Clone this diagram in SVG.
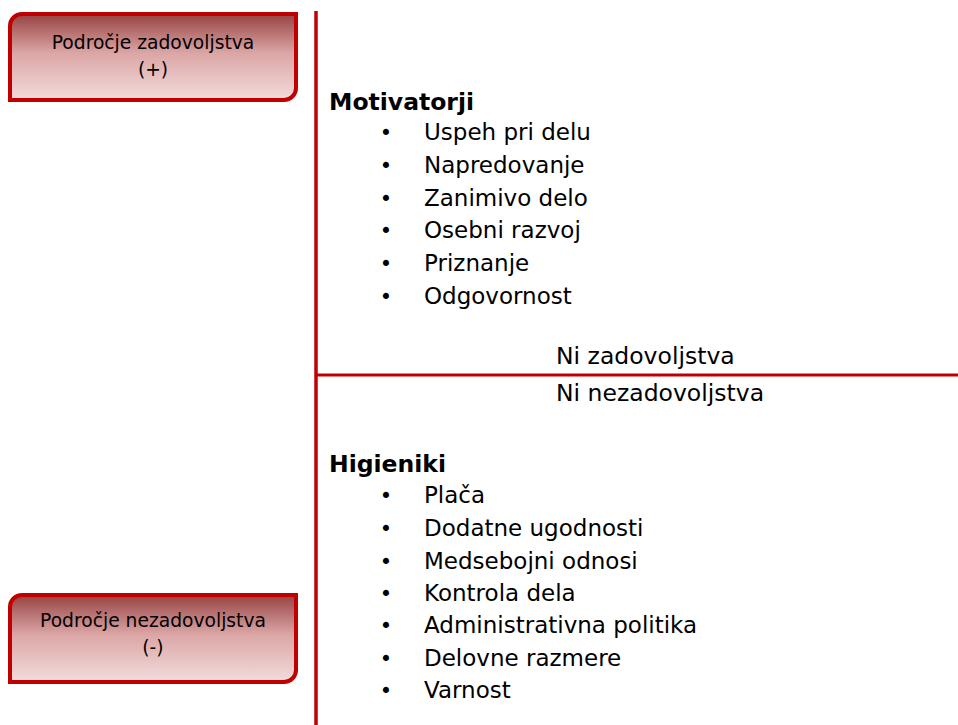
<svg xmlns="http://www.w3.org/2000/svg" width="958" height="725" viewBox="0 0 958 725">
  <style>
    text { font-family: "DejaVu Sans", Verdana, sans-serif; fill: #000; }
    .box { fill: url(#boxFill); stroke: #c00000; stroke-width: 4; }
    .boxText { font-size: 18.7px; text-anchor: middle; }
    .axis { stroke: #c00000; fill: none; }
    .head { font-size: 23.5px; font-weight: bold; }
    .item { font-size: 23px; }
    .dot { font-size: 21px; text-anchor: middle; }
    .zone { font-size: 23.5px; }
  </style>
  <defs>
    <linearGradient id="boxFill" x1="0" y1="0" x2="0" y2="1">
      <stop offset="0" stop-color="#974242"/>
      <stop offset="0.45" stop-color="#dba5a5"/>
      <stop offset="1" stop-color="#f3dcdc"/>
    </linearGradient>
  </defs>

  <!-- axes -->
  <g id="connectors">
    <line class="axis" x1="316" y1="11" x2="316" y2="725" stroke-width="3.5"/>
    <line class="axis" x1="316" y1="375" x2="958" y2="375" stroke-width="3"/>
  </g>

  <!-- satisfaction zone label -->
  <g id="zone-plus">
    <path class="box" d="M22,14 H296 V88 A12,12 0 0 1 284,100 H10 V26 A12,12 0 0 1 22,14 Z"/>
    <text class="boxText" x="153" y="49">Področje zadovoljstva</text>
    <text class="boxText" x="153" y="76">(+)</text>
  </g>

  <!-- dissatisfaction zone label -->
  <g id="zone-minus">
    <path class="box" d="M22,595 H296 V670 A12,12 0 0 1 284,682 H10 V607 A12,12 0 0 1 22,595 Z"/>
    <text class="boxText" x="153" y="627">Področje nezadovoljstva</text>
    <text class="boxText" x="153" y="654">(-)</text>
  </g>

  <!-- motivators -->
  <g id="motivators">
    <text class="head" x="329" y="110">Motivatorji</text>
    <g class="list">
      <text class="dot" x="386" y="140">•</text><text class="item" x="424" y="140">Uspeh pri delu</text>
      <text class="dot" x="386" y="173">•</text><text class="item" x="424" y="173">Napredovanje</text>
      <text class="dot" x="386" y="206">•</text><text class="item" x="424" y="206">Zanimivo delo</text>
      <text class="dot" x="386" y="238">•</text><text class="item" x="424" y="238">Osebni razvoj</text>
      <text class="dot" x="386" y="271">•</text><text class="item" x="424" y="271">Priznanje</text>
      <text class="dot" x="386" y="304">•</text><text class="item" x="424" y="304">Odgovornost</text>
    </g>
  </g>

  <!-- neutral line labels -->
  <g id="neutral">
    <text class="zone" x="556" y="364">Ni zadovoljstva</text>
    <text class="zone" x="556" y="401">Ni nezadovoljstva</text>
  </g>

  <!-- hygiene factors -->
  <g id="hygiene">
    <text class="head" x="329" y="472">Higieniki</text>
    <g class="list">
      <text class="dot" x="386" y="503">•</text><text class="item" x="424" y="503">Plača</text>
      <text class="dot" x="386" y="536">•</text><text class="item" x="424" y="536">Dodatne ugodnosti</text>
      <text class="dot" x="386" y="569">•</text><text class="item" x="424" y="569">Medsebojni odnosi</text>
      <text class="dot" x="386" y="601">•</text><text class="item" x="424" y="601">Kontrola dela</text>
      <text class="dot" x="386" y="633">•</text><text class="item" x="424" y="633">Administrativna politika</text>
      <text class="dot" x="386" y="666">•</text><text class="item" x="424" y="666">Delovne razmere</text>
      <text class="dot" x="386" y="698">•</text><text class="item" x="424" y="698">Varnost</text>
    </g>
  </g>
</svg>
